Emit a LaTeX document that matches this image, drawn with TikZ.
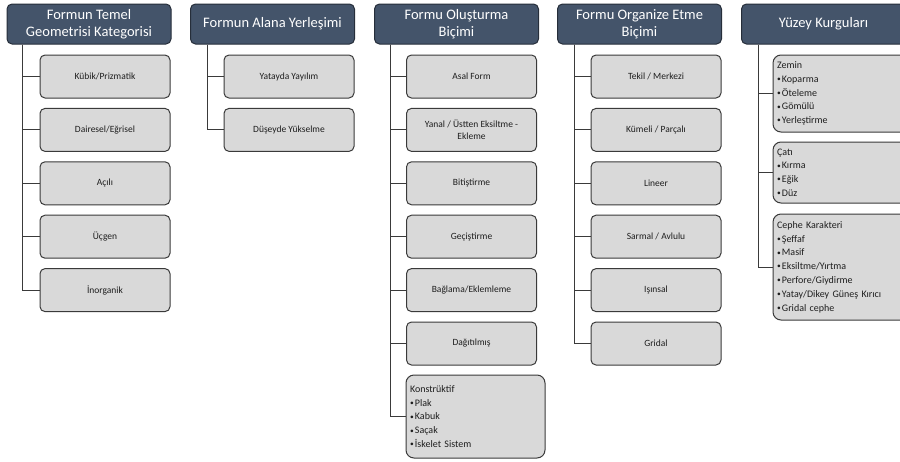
\documentclass[tikz,border=0pt]{standalone}
\usepackage{fontspec}
\setmainfont{Carlito}

\definecolor{headfill}{HTML}{44546A}
\definecolor{headline}{HTML}{262E3A}
\definecolor{leaffill}{HTML}{D9D9D9}
\definecolor{leafline}{HTML}{3A3A3A}
\definecolor{leaftext}{HTML}{1E1E1E}
\definecolor{linkcol}{HTML}{3A3A3A}

\newcommand{\itm}{\raisebox{0.15ex}{\fontsize{7.5}{7.5}\selectfont•}\hspace{1.2pt}}

\tikzset{
  head/.style={rectangle,rounded corners=5pt,draw=headline,fill=headfill,line width=1pt,
    minimum width=164pt,minimum height=40pt,inner sep=2pt,text=white,align=center,
    font=\fontsize{14.5}{17}\selectfont},
  leaf/.style={rectangle,rounded corners=5pt,draw=leafline,fill=leaffill,line width=1pt,
    minimum width=130pt,minimum height=43pt,text=leaftext,align=center,
    font=\fontsize{9.5}{12}\selectfont},
  listbox/.style={leaf,rounded corners=8pt,text width=131pt,inner sep=4pt,align=left,
    font=\fontsize{10}{13.8}\selectfont},
  link/.style={draw=linkcol,line width=1pt}
}

\begin{document}
\begin{tikzpicture}[x=1pt,y=-1pt]
\useasboundingbox (0,0) rectangle (900,461);
\clip (0,0) rectangle (900,461);

% Headers
\node[head] at(89,24) (h1) {Formun Temel\\Geometrisi Kategorisi};
\node[head] at(272.5,24) (h2) {Formun Alana Yerleşimi};
\node[head] at(456.5,24) (h3) {Formu Oluşturma\\Biçimi};
\node[head] at(639.5,24) (h4) {Formu Organize Etme\\Biçimi};
\node[head] at(823.5,24) (h5) {Yüzey Kurguları};

\coordinate (t1) at ([xshift=16pt]h1.south west);
\coordinate (t2) at ([xshift=17pt]h2.south west);
\coordinate (t3) at ([xshift=16pt]h3.south west);
\coordinate (t4) at ([xshift=17pt]h4.south west);
\coordinate (t5) at ([xshift=17pt]h5.south west);

% Geometri
\node[leaf] at(105,76.5) (g1) {Kübik/Prizmatik};
\node[leaf] at(105,129.9) (g2) {Dairesel/Eğrisel};
\node[leaf] at(105,183.3) (g3) {Açılı};
\node[leaf] at(105,236.7) (g4) {Üçgen};
\node[leaf] at(105,290.1) (g5) {İnorganik};

% Yerlesim
\node[leaf] at(289,76.5) (y1) {Yatayda Yayılım};
\node[leaf] at(289,129.9) (y2) {Düşeyde Yükselme};

% Olusturma
\node[leaf] at(471.5,76.5) (o1) {Asal Form};
\node[leaf] at(471.5,129.9) (o2) {Yanal / Üstten Eksiltme -\\Ekleme};
\node[leaf] at(471.5,183.3) (o3) {Bitiştirme};
\node[leaf] at(471.5,236.7) (o4) {Geçiştirme};
\node[leaf] at(471.5,290.1) (o5) {Bağlama/Eklemleme};
\node[leaf] at(471.5,343.5) (o6) {Dağıtılmış};
\node[listbox,minimum height=83pt] at(475.5,416.5) (o7) {Konstrüktif\\\itm Plak\\\itm Kabuk\\\itm Saçak\\\itm İskelet Sistem};

% Organize
\node[leaf] at(656,76.5) (r1) {Tekil / Merkezi};
\node[leaf] at(656,129.9) (r2) {Kümeli / Parçalı};
\node[leaf] at(656,183.3) (r3) {Lineer};
\node[leaf] at(656,236.7) (r4) {Sarmal / Avlulu};
\node[leaf] at(656,290.1) (r5) {Işınsal};
\node[leaf] at(656,343.5) (r6) {Gridal};

% Yuzey
\node[listbox,minimum height=77pt] at(842.5,93.5) (s1) {Zemin\\\itm Koparma\\\itm Öteleme\\\itm Gömülü\\\itm Yerleştirme};
\node[listbox,minimum height=61pt] at(842.5,172.5) (s2) {Çatı\\\itm Kırma\\\itm Eğik\\\itm Düz};
\node[listbox,minimum height=106pt] at(842.5,267) (s3) {Cephe Karakteri\\\itm Şeffaf\\\itm Masif\\\itm Eksiltme/Yırtma\\\itm Perfore/Giydirme\\\itm Yatay/Dikey Güneş Kırıcı\\\itm Gridal cephe};

% Links
\draw[link] (t1) |- (g1.west);
\draw[link] (t1) |- (g2.west);
\draw[link] (t1) |- (g3.west);
\draw[link] (t1) |- (g4.west);
\draw[link] (t1) |- (g5.west);

\draw[link] (t2) |- (y1.west);
\draw[link] (t2) |- (y2.west);

\draw[link] (t3) |- (o1.west);
\draw[link] (t3) |- (o2.west);
\draw[link] (t3) |- (o3.west);
\draw[link] (t3) |- (o4.west);
\draw[link] (t3) |- (o5.west);
\draw[link] (t3) |- (o6.west);
\draw[link] (t3) |- (o7.west);

\draw[link] (t4) |- (r1.west);
\draw[link] (t4) |- (r2.west);
\draw[link] (t4) |- (r3.west);
\draw[link] (t4) |- (r4.west);
\draw[link] (t4) |- (r5.west);
\draw[link] (t4) |- (r6.west);

\draw[link] (t5) |- (s1.west);
\draw[link] (t5) |- (s2.west);
\draw[link] (t5) |- (s3.west);
\end{tikzpicture}
\end{document}
